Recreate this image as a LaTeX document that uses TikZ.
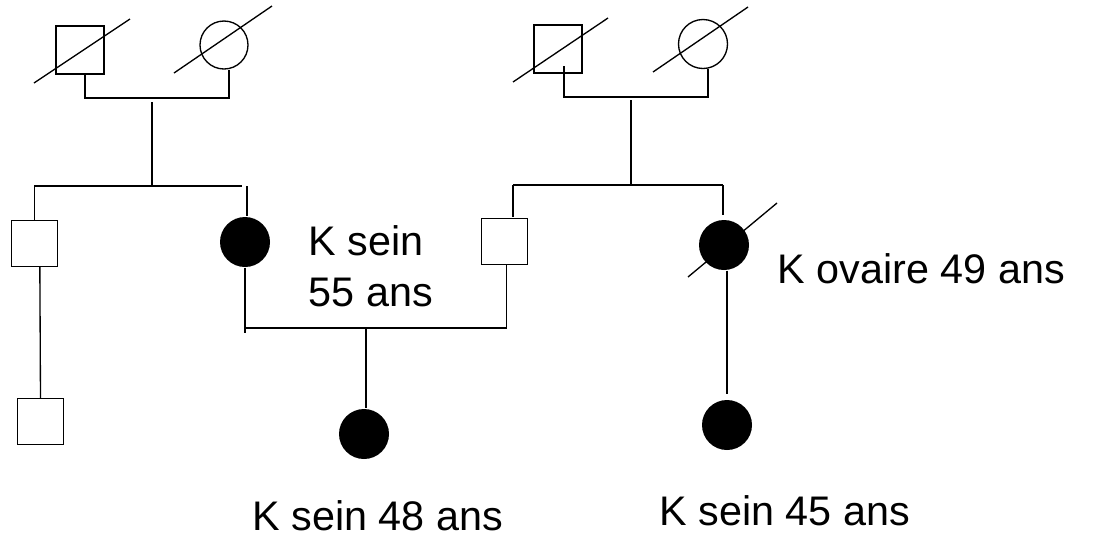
\documentclass[tikz,border=0pt]{standalone}
\usepackage{fontspec}
\setmainfont{Liberation Sans}
\begin{document}
\begin{tikzpicture}[x=0.75pt,y=-0.75pt,
  line width=1pt,
  male/.style={draw,rectangle,minimum size=#1*0.75pt,inner sep=0pt,fill=white},
  female/.style={draw,circle,minimum size=#1*0.75pt,inner sep=0pt,fill=white},
  affected/.style={circle,minimum size=50*0.75pt,inner sep=0pt,fill=black},
  lbl/.style={inner sep=0pt,anchor=base west,font=\fontsize{31}{38.25}\selectfont,align=left}]
\useasboundingbox (0,0) rectangle (1095,537);
% persons
\node[male=48] (gp1) at (80,50) {};
\node[female=48] (gm1) at (224,45) {};
\node[male=48] (gp2) at (558,49) {};
\node[female=49] (gm2) at (703,44) {};
\node[male=46] (u1) at (34.5,243.5) {};
\node[male=46] (u2) at (40.5,421.5) {};
\node[affected] (m1) at (245,242) {};
\node[male=46] (f1) at (504.5,241.5) {};
\node[affected] (a1) at (724,245) {};
\node[affected] (p) at (364,434) {};
\node[affected] (c2) at (727,425) {};
% deceased slashes
\coordinate (s1a) at (34,83);   \coordinate (s1b) at (130,19);
\coordinate (s2a) at (174,73);  \coordinate (s2b) at (272,6);
\coordinate (s3a) at (513,82);  \coordinate (s3b) at (608,18);
\coordinate (s4a) at (653,72);  \coordinate (s4b) at (748,7);
\coordinate (s5a) at (688,277); \coordinate (s5b) at (777,203);
\draw (s1a) -- (s1b);
\draw (s2a) -- (s2b);
\draw (s3a) -- (s3b);
\draw (s4a) -- (s4b);
\draw (s5a) -- (s5b);
% family 1
\coordinate (c1) at (152,98);
\coordinate (d1t) at (152,102);
\coordinate (d1b) at (152,186);
\coordinate (sib1r) at (242,186);
\coordinate (sib1m) at (247,186);
\draw ([xshift=3.75pt]gp1.south) |- (c1) -| ([xshift=3.75pt]gm1.south);
\draw (d1t) -- (d1b);
\draw (u1.north) |- (sib1r);
\draw (sib1m) -- ([xshift=1.5pt]m1.north);
\draw ([xshift=4pt]u1.south) -- (u2.north);
% family 2
\coordinate (gp2in) at (564,66);
\coordinate (c2l) at (631,97);
\coordinate (d2t) at (631,100);
\coordinate (d2b) at (631,185);
\coordinate (sib2l) at (513,185);
\coordinate (sib2r) at (723,185);
\draw (gp2in) |- (c2l) -| ([xshift=3.75pt]gm2.south);
\draw (d2t) -- (d2b);
\draw (sib2l) -- (sib2r);
\draw (sib2l) -- (513,217);
\draw (sib2r) -- ([xshift=-0.75pt,yshift=3pt]a1.north);
\draw ([xshift=2.25pt]a1.south) -- ([yshift=3.75pt]c2.north);
% couple of generation 2
\coordinate (cl) at (245,333);
\coordinate (clh) at (245,328);
\coordinate (pd) at (366,328);
\draw (m1.south) -- (cl);
\draw (clh) -| ([xshift=1.5pt]f1.south);
\draw (pd) -- ([xshift=1.5pt]p.north);
% labels
\node[lbl] (t1) at (308,306) {K sein\\55 ans};
\node[lbl] (t2) at (777,283) {K ovaire 49 ans};
\node[lbl] (t3) at (252,530) {K sein 48 ans};
\node[lbl] (t4) at (659,525) {K sein 45 ans};
\end{tikzpicture}
\end{document}
